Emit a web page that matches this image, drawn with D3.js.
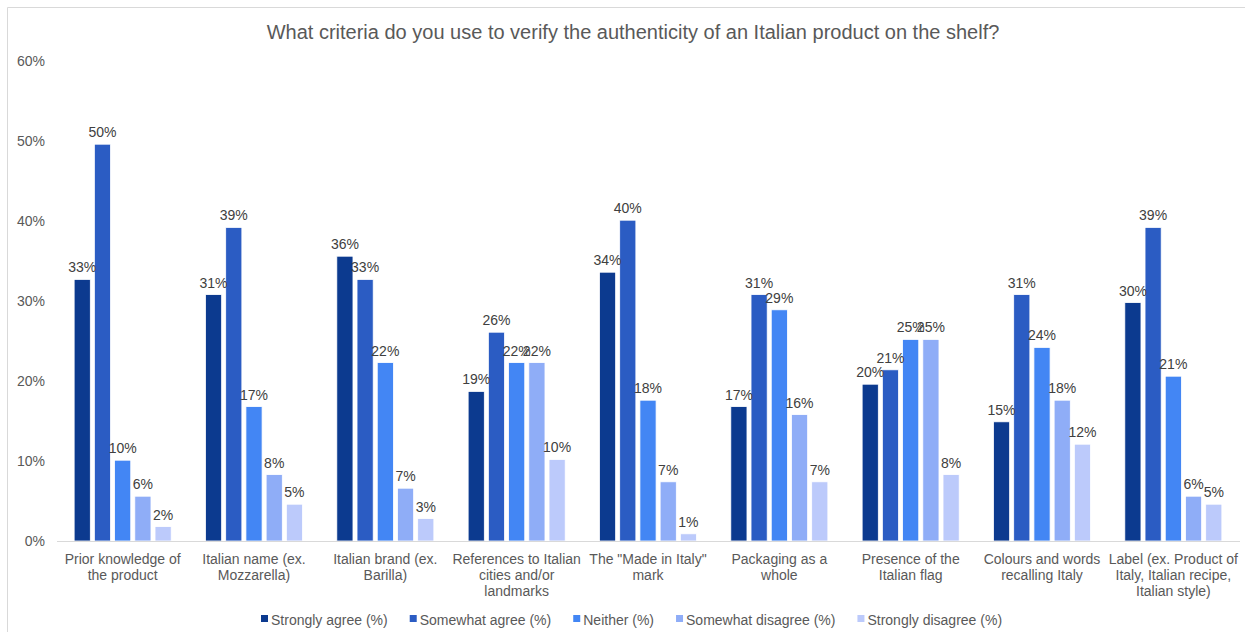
<!DOCTYPE html>
<html>
<head>
<meta charset="utf-8">
<script src="https://cdn.jsdelivr.net/npm/d3@7"></script>
<style>
  html, body { margin: 0; padding: 0; background: #fff; }
  svg { display: block; font-family: "Liberation Sans", Arial, sans-serif; }
</style>
</head>
<body>
<svg id="chart" width="1245" height="632"></svg>
<script>
// Survey question and answer categories
const title = "What criteria do you use to verify the authenticity of an Italian product on the shelf?";

const categories = [
  ["Prior knowledge of", "the product"],
  ["Italian name (ex.", "Mozzarella)"],
  ["Italian brand (ex.", "Barilla)"],
  ["References to Italian", "cities and/or", "landmarks"],
  ["The \"Made in Italy\"", "mark"],
  ["Packaging as a", "whole"],
  ["Presence of the", "Italian flag"],
  ["Colours and words", "recalling Italy"],
  ["Label (ex. Product of", "Italy, Italian recipe,", "Italian style)"]
];

const seriesNames = [
  "Strongly agree (%)",
  "Somewhat agree (%)",
  "Neither (%)",
  "Somewhat disagree (%)",
  "Strongly disagree (%)"
];

// Share of respondents (%) per category, one array per answer
const stronglyAgree    = [32.7, 30.8, 35.6, 18.7, 33.6, 16.8, 19.6, 14.9, 29.8];
const somewhatAgree    = [49.6, 39.2, 32.7, 26.1, 40.1, 30.8, 21.4, 30.8, 39.2];
const neither          = [10.1, 16.8, 22.3, 22.3, 17.6, 28.9, 25.2, 24.2, 20.6];
const somewhatDisagree = [ 5.6,  8.3,  6.6, 22.3,  7.4, 15.8, 25.2, 17.6,  5.6];
const stronglyDisagree = [ 1.8,  4.6,  2.8, 10.2,  0.9,  7.4,  8.3, 12.1,  4.6];

const yTicks = [0, 10, 20, 30, 40, 50, 60];

const seriesValues = [stronglyAgree, somewhatAgree, neither, somewhatDisagree, stronglyDisagree];
const colors = ["#0c3a8f", "#2b5cc3", "#4386f4", "#8fadf7", "#bccafb"];

const svg = d3.select("#chart");
const W = 1245, H = 632;
const plot = { left: 57, right: 1239, top: 61, bottom: 541 };
const FS = 14;

// outer frame
svg.append("path")
  .attr("d", `M7.5,${H} V7.5 H${W}`)
  .attr("fill", "none")
  .attr("stroke", "#d9d9d9")
  .attr("stroke-width", 1);

// title
svg.append("text")
  .attr("x", 633)
  .attr("y", 39)
  .attr("text-anchor", "middle")
  .attr("font-size", 20)
  .attr("fill", "#595959")
  .text(title);

const catKeys = categories.map((c, i) => i);

const x0 = d3.scaleBand()
  .domain(catKeys)
  .range([plot.left, plot.right])
  .paddingInner(0.261)
  .paddingOuter(0.1305);

const x1 = d3.scaleBand()
  .domain(d3.range(seriesNames.length))
  .range([0, x0.bandwidth()])
  .paddingInner(0.2)
  .paddingOuter(0);

const y = d3.scaleLinear()
  .domain([0, 60])
  .range([plot.bottom, plot.top]);

// y axis tick labels
const yAxis = d3.axisLeft(y)
  .tickValues(yTicks)
  .tickFormat(d => d + "%")
  .tickSize(0)
  .tickPadding(0);

const yg = svg.append("g")
  .attr("transform", `translate(45,0)`)
  .call(yAxis);
yg.select(".domain").remove();
yg.selectAll("text")
  .attr("font-size", FS)
  .attr("fill", "#595959")
  .attr("font-family", "Liberation Sans, Arial, sans-serif");

// bars
const groups = svg.append("g")
  .selectAll("g")
  .data(catKeys)
  .join("g")
  .attr("transform", d => `translate(${x0(d)},0)`);

groups.selectAll("rect")
  .data(ci => seriesValues.map((vals, si) => ({ si, v: vals[ci] })))
  .join("rect")
  .attr("x", d => x1(d.si))
  .attr("y", d => y(d.v))
  .attr("width", x1.bandwidth())
  .attr("height", d => y(0) - y(d.v))
  .attr("fill", d => colors[d.si])
  .attr("stroke", "#ffffff")
  .attr("stroke-width", 0.8);

// value labels
groups.selectAll("text.val")
  .data(ci => seriesValues.map((vals, si) => ({ si, v: vals[ci] })))
  .join("text")
  .attr("class", "val")
  .attr("x", d => x1(d.si) + x1.bandwidth() / 2)
  .attr("y", d => y(d.v) - 7)
  .attr("text-anchor", "middle")
  .attr("font-size", FS)
  .attr("fill", "#404040")
  .text(d => Math.round(d.v) + "%");

// baseline
svg.append("line")
  .attr("x1", plot.left)
  .attr("x2", plot.right + 1)
  .attr("y1", y(0) + 0.5)
  .attr("y2", y(0) + 0.5)
  .attr("stroke", "#d9d9d9")
  .attr("stroke-width", 1);

// category labels
const xAxis = d3.axisBottom(x0).tickSize(0).tickFormat("");
const xg = svg.append("g")
  .attr("transform", `translate(0,${plot.bottom})`)
  .call(xAxis);
xg.select(".domain").remove();
xg.selectAll(".tick").each(function (d) {
  const t = d3.select(this).append("text")
    .attr("text-anchor", "middle")
    .attr("font-size", FS)
    .attr("fill", "#595959")
    .attr("y", 23);
  categories[d].forEach((line, li) => {
    t.append("tspan")
      .attr("x", 0)
      .attr("dy", li === 0 ? 0 : 16)
      .text(line);
  });
});

// legend
const legend = svg.append("g").attr("transform", "translate(261,625)");
let lx = 0;
seriesNames.forEach((name, i) => {
  const item = legend.append("g").attr("transform", `translate(${lx},0)`);
  item.append("rect")
    .attr("x", 0)
    .attr("y", -10)
    .attr("width", 7)
    .attr("height", 7)
    .attr("fill", colors[i]);
  const t = item.append("text")
    .attr("x", 10)
    .attr("y", 0)
    .attr("font-size", FS)
    .attr("fill", "#595959")
    .text(name);
  lx += 10 + t.node().getComputedTextLength() + 22;
});
</script>
</body>
</html>
